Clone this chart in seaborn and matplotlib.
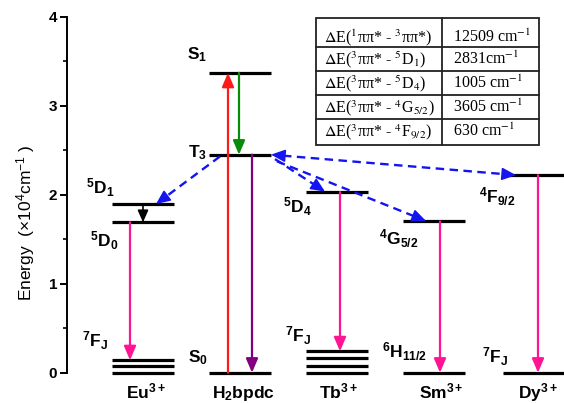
import numpy as np
import pandas as pd
import matplotlib
matplotlib.use('Agg')
import matplotlib.pyplot as plt
import seaborn as sns
from matplotlib.patches import Rectangle
from matplotlib.lines import Line2D

# ---------------- data (energies in 10^4 cm^-1) ----------------
species = [r'$\mathbf{Eu^{3+}}$', r'$\mathbf{H_2bpdc}$', r'$\mathbf{Tb^{3+}}$',
           r'$\mathbf{Sm^{3+}}$', r'$\mathbf{Dy^{3+}}$']
lig_S0 = 0.0
lig_S1 = 3.37
lig_T3 = 2.45
eu_7FJ = [0.0, 0.07, 0.14]
eu_5D0 = 1.69
eu_5D1 = 1.89
tb_7FJ = [0.0, 0.08, 0.16, 0.24]
tb_5D4 = 2.03
sm_6H = 0.0
sm_4G = 1.70
dy_7FJ = 0.0
dy_4F = 2.22
table_gaps = [r'$\Delta$E($^1$ππ* - $^3$ππ*)', r'$\Delta$E($^3$ππ* - $^5$D$_1$)',
              r'$\Delta$E($^3$ππ* - $^5$D$_4$)', r'$\Delta$E($^3$ππ* - $^4$G$_{5/2}$)',
              r'$\Delta$E($^3$ππ* - $^4$F$_{9/2}$)']
table_values = [r'12509 cm$^{-1}$', r'2831cm$^{-1}$', r'1005 cm$^{-1}$',
                r'3605 cm$^{-1}$', r'630 cm$^{-1}$']

# ---------------- style ----------------
sns.set_theme(style='ticks')
plt.rcParams['font.family'] = ['Liberation Sans', 'DejaVu Sans']
plt.rcParams['mathtext.fontset'] = 'custom'
plt.rcParams['mathtext.rm'] = 'Liberation Sans'
plt.rcParams['mathtext.it'] = 'Liberation Sans:italic'
plt.rcParams['mathtext.bf'] = 'Liberation Sans:bold'

W, H = 564, 403
fig = plt.figure(figsize=(W / 100, H / 100), dpi=100)
y0px, y4px = 372.7, 16.7
ax = fig.add_axes([67 / W, (H - y0px) / H, (W - 67) / W, (y0px - y4px) / H])
ax.set_xlim(67, 564)
ax.set_ylim(0, 4)

def py(ypx):
    return (y0px - ypx) / ((y0px - y4px) / 4)

# column centres (pixels) and half width of a level line
cx = {'Eu': 143, 'H': 240, 'Tb': 337, 'Sm': 434, 'Dy': 534}
hw = 31

levels = ([('Eu', e) for e in eu_7FJ] + [('Eu', eu_5D0), ('Eu', eu_5D1)] +
          [('H', lig_S0), ('H', lig_S1), ('H', lig_T3)] +
          [('Tb', e) for e in tb_7FJ] + [('Tb', tb_5D4)] +
          [('Sm', sm_6H), ('Sm', sm_4G)] +
          [('Dy', dy_7FJ), ('Dy', dy_4F)])
rows = []
for i, (col, e) in enumerate(levels):
    rows.append({'id': i, 'x': cx[col] - hw, 'E': e})
    rows.append({'id': i, 'x': cx[col] + hw + (8 if col == 'Dy' else 0), 'E': e})
df = pd.DataFrame(rows)
sns.lineplot(data=df, x='x', y='E', units='id', estimator=None, sort=False,
             color='black', lw=2.3, ax=ax, legend=False)
for ln in ax.lines:
    ln.set_clip_on(False)
    ln.set_solid_capstyle('butt')

# axes styling
for s in ['top', 'right', 'bottom']:
    ax.spines[s].set_visible(False)
ax.spines['left'].set_linewidth(1.4)
ax.spines['left'].set_color('black')
ax.set_xticks([])
ax.set_yticks([0, 1, 2, 3, 4])
ax.set_yticks([0.5, 1.5, 2.5, 3.5], minor=True)
ax.tick_params(axis='y', which='major', direction='out', length=5, width=1.4,
               labelsize=11, pad=2, color='black', labelcolor='black')
ax.tick_params(axis='y', which='minor', direction='out', length=3, width=1.2, color='black')
for t in ax.get_yticklabels():
    t.set_fontweight('bold')
ax.set_xlabel('')
ax.set_ylabel('Energy  (×10$^4$cm$^{-1}$ )', fontsize=12.5, color='black')
ax.yaxis.set_label_coords(-0.06, 0.42)
ax.set_facecolor('white')
fig.patch.set_facecolor('white')

# solid transition arrows
def arrow(x, e_from, e_to, color, lw=1.6, ms=20, hl=0.42, hwid=0.18):
    ax.annotate('', xy=(x, e_to), xytext=(x, e_from), annotation_clip=False,
                arrowprops=dict(arrowstyle=f'-|>,head_length={hl},head_width={hwid}',
                                color=color, lw=lw, shrinkA=0, shrinkB=0,
                                mutation_scale=ms))

pink = '#ff1493'
arrow(cx['H'] - 12, lig_S0, lig_S1, '#ff1a1a')
arrow(cx['H'] - 1, lig_S1, lig_T3, '#0a8a0a')
arrow(cx['H'] + 12, lig_T3, lig_S0, '#800080')
arrow(cx['Eu'] - 13, eu_5D0, max(eu_7FJ), pink)
arrow(cx['Eu'], eu_5D1, eu_5D0, 'black', lw=1.2, ms=16, hl=0.45, hwid=0.2)
arrow(cx['Tb'] + 3, tb_5D4, max(tb_7FJ), pink)
arrow(cx['Sm'] + 6, sm_4G, sm_6H, pink)
arrow(cx['Dy'] + 4, dy_4F, dy_7FJ, pink)

# blue dashed energy-transfer arrows
blue = '#1414f0'
def dashed_arrow(start, end, both=False, hl_px=12):
    ps = ax.transData.transform(start)
    pe = ax.transData.transform(end)
    u = (pe - ps) / np.linalg.norm(pe - ps)
    inv = ax.transData.inverted()
    be = inv.transform(pe - u * hl_px)
    bs = inv.transform(ps + u * hl_px) if both else np.array(start)
    ax.plot([bs[0], be[0]], [bs[1], be[1]], color=blue, lw=1.7,
            linestyle=(0, (3.6, 2.3)), clip_on=False)
    style = '-|>,head_length=0.45,head_width=0.2'
    ax.annotate('', xy=end, xytext=tuple(be), annotation_clip=False,
                arrowprops=dict(arrowstyle=style, color=blue, lw=1.2,
                                shrinkA=0, shrinkB=0, mutation_scale=19))
    if both:
        ax.annotate('', xy=start, xytext=tuple(bs), annotation_clip=False,
                    arrowprops=dict(arrowstyle=style, color=blue, lw=1.2,
                                    shrinkA=0, shrinkB=0, mutation_scale=19))

dashed_arrow((220, lig_T3 - 0.02), (156, eu_5D1 + 0.005))
dashed_arrow((275, lig_T3 - 0.05), (325, tb_5D4 + 0.005))
dashed_arrow((277, lig_T3 - 0.075), (426, sm_4G + 0.005))
dashed_arrow((271, lig_T3), (516, dy_4F), both=True)

# level labels (left x px, baseline px)
lab_kw = dict(fontsize=12.5, color='black', ha='left', va='baseline', clip_on=False)
labels = [(r'$\mathbf{^5D_1}$', 86, 194), (r'$\mathbf{^5D_0}$', 90, 247),
          (r'$\mathbf{^7F_J}$', 82, 347),
          (r'$\mathbf{S_1}$', 187, 59), (r'$\mathbf{T_3}$', 188, 157),
          (r'$\mathbf{S_0}$', 188, 362),
          (r'$\mathbf{^5D_4}$', 283, 213), (r'$\mathbf{^7F_J}$', 285, 342),
          (r'$\mathbf{^4G_{5/2}}$', 379, 245), (r'$\mathbf{^6H_{11/2}}$', 382, 358),
          (r'$\mathbf{^4F_{9/2}}$', 479, 203), (r'$\mathbf{^7F_J}$', 482, 363)]
for txt, xp, yp in labels:
    ax.text(xp, py(yp), txt, **lab_kw)

# species labels below the levels
for name, col in zip(species, ['Eu', 'H', 'Tb', 'Sm', 'Dy']):
    xoff = {'Eu': 3, 'H': 3, 'Tb': 1, 'Sm': 7, 'Dy': 4}[col]
    ax.text(cx[col] + xoff, py(398), name, fontsize=12.5, ha='center',
            va='baseline', clip_on=False, color='black')

# table of energy gaps
def fx(p):
    return p / W
def fy(p):
    return 1 - p / H
tl, tr, tt, tb_ = 316, 539, 18, 145
fig.add_artist(Rectangle((fx(tl), fy(tb_)), fx(tr) - fx(tl), fy(tt) - fy(tb_),
                         transform=fig.transFigure, fill=False, lw=1.3, ec='#222222'))
for yl in [47, 70.5, 94.5, 119]:
    fig.add_artist(Line2D([fx(tl), fx(tr)], [fy(yl), fy(yl)], transform=fig.transFigure,
                          lw=1.3, color='#222222'))
fig.add_artist(Line2D([fx(442), fx(442)], [fy(tt), fy(tb_)], transform=fig.transFigure,
                      lw=1.3, color='#222222'))
baselines = [42, 64.5, 88.5, 112, 136]
for gap, val, b in zip(table_gaps, table_values, baselines):
    fig.text(fx(324), fy(b), gap, family='Liberation Serif', math_fontfamily='stix',
             fontsize=11.5, va='baseline', ha='left', color='black')
    fig.text(fx(453), fy(b), val, family='Liberation Serif', math_fontfamily='stix',
             fontsize=11.5, va='baseline', ha='left', color='black')

fig.savefig('out.png', dpi=100)
